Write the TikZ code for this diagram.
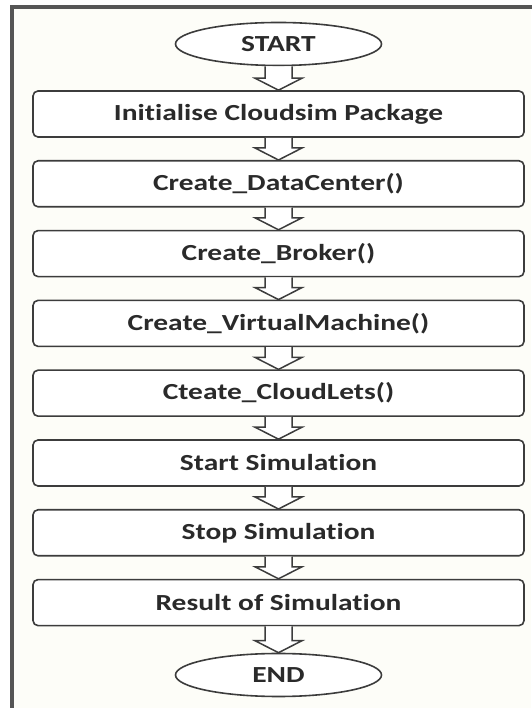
\documentclass[tikz,border=0pt]{standalone}
\usepackage{fontspec}
\setmainfont{Carlito}[FakeStretch=1.28,Ligatures=NoCommon]
\usetikzlibrary{shapes.geometric,calc}
\definecolor{bgc}{HTML}{FDFDF8}
\definecolor{framec}{HTML}{555555}
\definecolor{linec}{HTML}{3C3C3C}
\definecolor{textc}{HTML}{2A2A2A}
\tikzset{
  stepbox/.style={draw=linec, line width=1.6pt, rounded corners=5pt, fill=white,
    minimum width=491pt, minimum height=46pt, inner sep=0pt,
    font=\fontsize{23}{25}\selectfont\bfseries, text=textc},
  termnode/.style={ellipse, draw=linec, line width=1.6pt, fill=white,
    minimum width=206pt, minimum height=43pt, inner sep=0pt,
    font=\fontsize{23}{25}\selectfont\bfseries, text=textc},
  harrow/.style={draw=linec, line width=1.5pt, fill=white, line join=miter}
}
\newcommand{\hollowarrow}[2]{%
  \draw[harrow] ($(#1.south)+(-13.5,0)$) -- ($(#2.north)+(-13.5,12)$) -- ($(#2.north)+(-23.5,12)$)
    -- (#2.north) -- ($(#2.north)+(23.5,12)$) -- ($(#2.north)+(13.5,12)$) -- ($(#1.south)+(13.5,0)$);}
\begin{document}
\begin{tikzpicture}[x=1pt,y=1pt]
\useasboundingbox (0,0) rectangle (531,708);
\fill[white] (0,0) rectangle (531,708);
\fill[bgc] (12,0) rectangle (531,700.5);
\draw[framec, line width=4pt] (12,-2) -- (12,700.5) -- (533,700.5);
\node[termnode] (start) at (278.5,664) {START};
\node[stepbox] (b1) at (278.5,594) {Initialise Cloudsim Package};
\node[stepbox] (b2) at (278.5,524.2) {Create\_DataCenter()};
\node[stepbox] (b3) at (278.5,454.4) {Create\_Broker()};
\node[stepbox] (b4) at (278.5,384.6) {Create\_VirtualMachine()};
\node[stepbox] (b5) at (278.5,314.8) {Cteate\_CloudLets()};
\node[stepbox] (b6) at (278.5,245) {Start Simulation};
\node[stepbox] (b7) at (278.5,175.2) {Stop Simulation};
\node[stepbox] (b8) at (278.5,105.4) {Result of Simulation};
\node[termnode] (end) at (278.5,33) {END};
\hollowarrow{start}{b1}
\hollowarrow{b1}{b2}
\hollowarrow{b2}{b3}
\hollowarrow{b3}{b4}
\hollowarrow{b4}{b5}
\hollowarrow{b5}{b6}
\hollowarrow{b6}{b7}
\hollowarrow{b7}{b8}
\hollowarrow{b8}{end}
\end{tikzpicture}
\end{document}
